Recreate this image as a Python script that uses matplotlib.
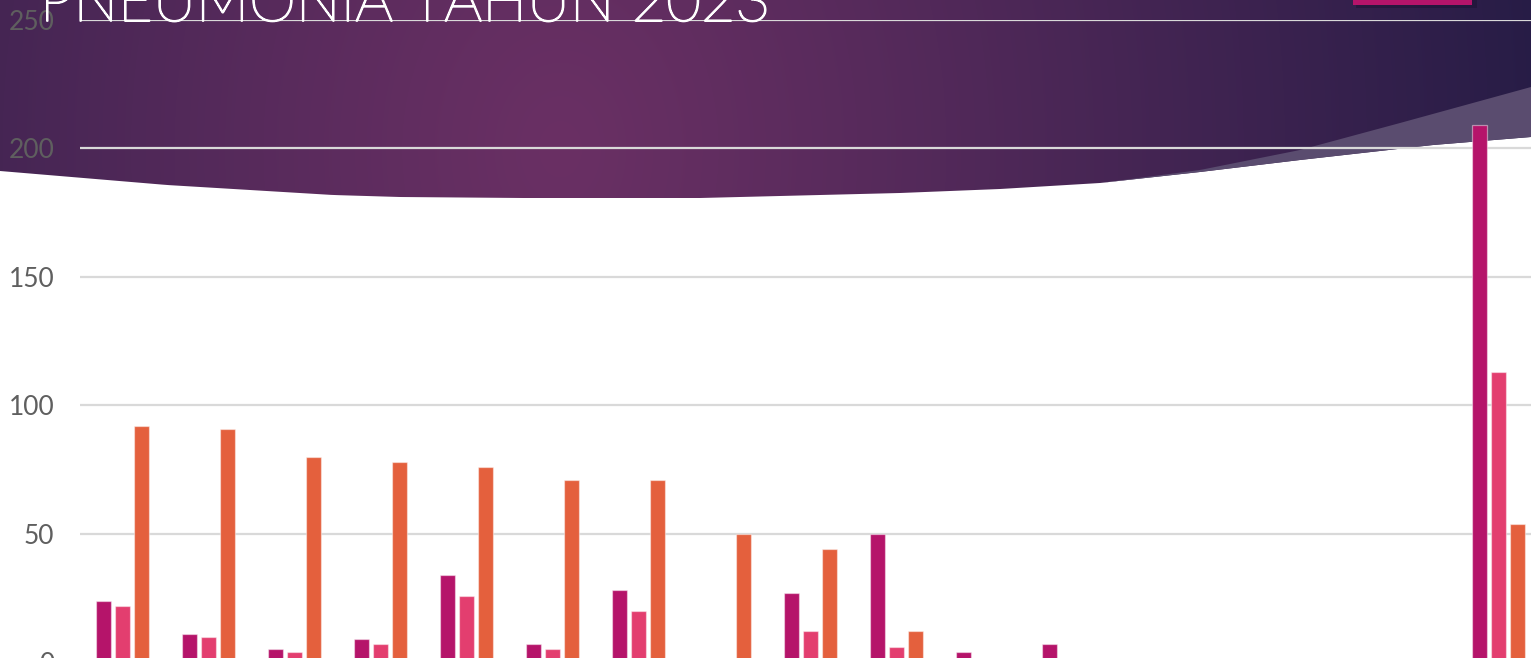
import numpy as np
import matplotlib
matplotlib.use("Agg")
import matplotlib.pyplot as plt
import matplotlib.patheffects as pe
from matplotlib.patches import Polygon, Rectangle

# data (17 groups, 3 series each)
categories = [str(i) for i in range(1, 18)]
series_names = ["Seri 1", "Seri 2", "Seri 3"]
seri_1 = [24, 11, 5, 9, 34, 7, 28, 1, 27, 50, 4, 7, 0, 0, 0, 0, 209]
seri_2 = [22, 10, 4, 7, 26, 5, 20, 0, 12, 6, 0, 0, 0, 0, 0, 0, 113]
seri_3 = [92, 91, 80, 78, 76, 71, 71, 50, 44, 12, 0, 0, 0, 0, 0, 0, 54]
y_ticks = [0, 50, 100, 150, 200, 250]
title = "PNEUMONIA TAHUN 2023"

colors = ["#B5146A", "#E33E6F", "#E4603D"]

W, H = 1531, 658
fig = plt.figure(figsize=(W / 100, H / 100), dpi=100)

# --- slide background: purple banner at the top ---
bg = fig.add_axes([0, 0, 1, 1])
bg.set_xlim(0, W)
bg.set_ylim(H, 0)
bg.axis("off")
bg.set_zorder(0)

# gradient for the banner, brightest a bit left of centre
gx, gy = np.meshgrid(np.linspace(0, W, 400), np.linspace(0, 210, 60))
d = np.sqrt(((gx - 560) / 1050.0) ** 2 + ((gy - 150) / 1400.0) ** 2)
t = np.clip(d, 0, 1) ** 1.1
c_in = np.array([0x6a, 0x30, 0x64]) / 255.0
c_out = np.array([0x22, 0x1b, 0x44]) / 255.0
img = c_in[None, None, :] * (1 - t[..., None]) + c_out[None, None, :] * t[..., None]

curve_x = [0, 167, 333, 400, 523, 700, 900, 1000, 1100, 1200, 1300, 1433, 1531]
curve_y = [171, 185, 195, 197, 198, 198, 193, 189, 183, 172, 160, 145, 137]
xs = np.linspace(0, W, 200)
ys = np.interp(xs, curve_x, curve_y)
banner = Polygon([(0, -5)] + list(zip(xs, ys)) + [(W, -5)], closed=True,
                 facecolor="none", edgecolor="none")
bg.add_patch(banner)
im = bg.imshow(img, extent=[0, W, 210, 0], aspect="auto", interpolation="bilinear")
im.set_clip_path(banner)

# lighter translucent band on the right side of the banner
up_x = [1100, 1200, 1300, 1400, 1531]
up_y = [183, 170, 150, 123, 87]
bx = np.linspace(1100, W, 80)
band = list(zip(bx, np.interp(bx, up_x, up_y))) + list(zip(bx[::-1], np.interp(bx[::-1], curve_x, curve_y)))
bg.add_patch(Polygon(band, closed=True, facecolor="#5a4c6f", edgecolor="none"))

# magenta box at top right with a soft shadow
bg.add_patch(Rectangle((1356, -10), 121, 18, facecolor="#1a1030", alpha=0.45, edgecolor="none"))
bg.add_patch(Rectangle((1353, -10), 119, 14.7, facecolor="#B5146A", edgecolor="none"))

# --- the chart ---
ax = fig.add_axes([79.5 / W, -4.3 / H, 1462 / W, 642.3 / H])
ax.set_zorder(2)
ax.patch.set_alpha(0)

x = np.arange(len(categories))
bw = 0.171
step = 0.221
for i, (vals, col, name) in enumerate(zip([seri_1, seri_2, seri_3], colors, series_names)):
    ax.bar(x + (i - 1) * step, vals, width=bw, color=col, label=name,
           edgecolor=(1, 1, 1, 0.45), linewidth=0.9, zorder=3)

ax.set_xlim(-0.5, len(categories) - 0.5)
ax.set_ylim(0, 250)
ax.set_yticks(y_ticks)
ax.set_xticks([])
ax.yaxis.grid(True, color="#d9d9d9", linewidth=1.6)
ax.set_axisbelow(True)
for s in ax.spines.values():
    s.set_visible(False)
ax.tick_params(axis="y", length=0, pad=18, labelsize=19, labelcolor="#5f5f5f")
for lab in ax.get_yticklabels():
    lab.set_fontfamily(["Lato", "DejaVu Sans"])

# title of the slide, cut off at the top
fig.text(40 / W, (H - 21) / H, title, color="white", fontsize=43,
         family=["Lato", "DejaVu Sans"], fontweight="light",
         ha="left", va="baseline", zorder=5,
         path_effects=[pe.withStroke(linewidth=1.3, foreground="white")])

fig.savefig("out.png", dpi=100)
